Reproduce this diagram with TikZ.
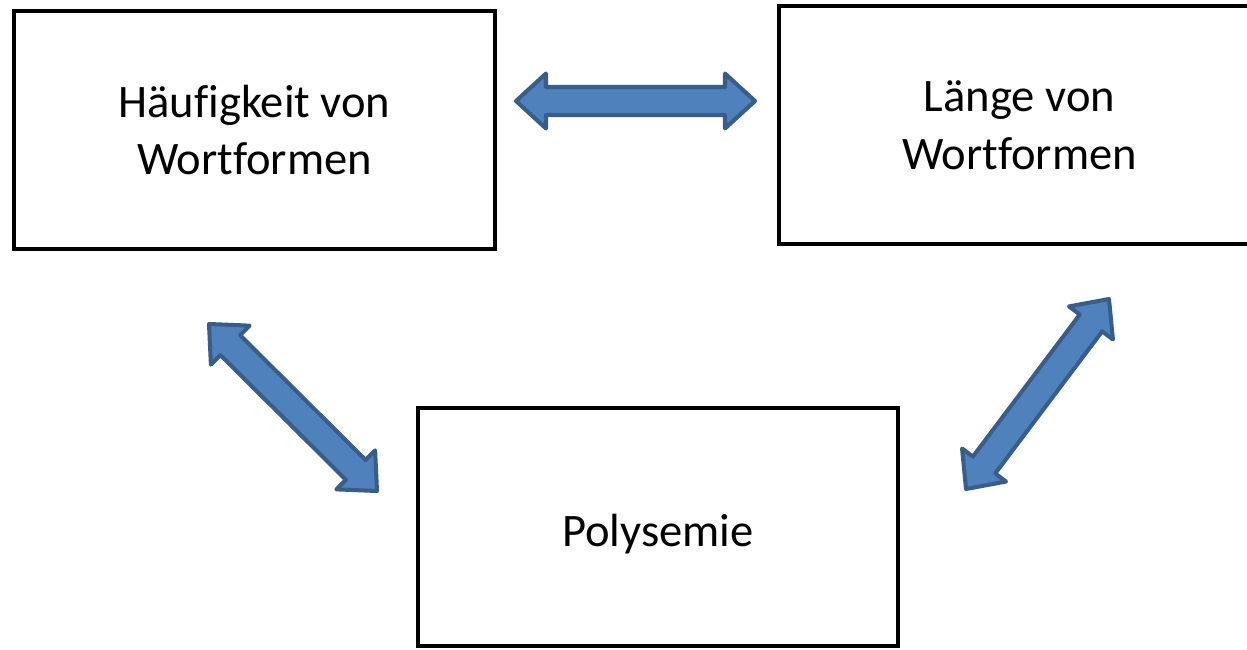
\documentclass[tikz,border=0pt]{standalone}
\usepackage{fontspec}
\setmainfont[Ligatures=NoCommon]{Carlito}
\usetikzlibrary{calc}

\definecolor{pfeilblau}{HTML}{4F81BD}
\definecolor{pfeilrand}{HTML}{385D8A}

% dicker Doppelpfeil zwischen zwei Koordinaten
\newcommand{\doppelpfeil}[2]{%
  \draw[pfeil] (#1)
    -- ($(#1)!0.6cm!(#2)!0.55cm!90:(#2)$)
    -- ($(#1)!0.6cm!(#2)!0.28cm!90:(#2)$)
    -- ($(#2)!0.6cm!(#1)!0.28cm!-90:(#1)$)
    -- ($(#2)!0.6cm!(#1)!0.55cm!-90:(#1)$)
    -- (#2)
    -- ($(#2)!0.6cm!(#1)!0.55cm!90:(#1)$)
    -- ($(#2)!0.6cm!(#1)!0.28cm!90:(#1)$)
    -- ($(#1)!0.6cm!(#2)!0.28cm!-90:(#2)$)
    -- ($(#1)!0.6cm!(#2)!0.55cm!-90:(#2)$)
    -- cycle;}

\begin{document}
\begin{tikzpicture}[x=0.02cm, y=-0.02cm,
    kasten/.style={draw=black, line width=2.3pt, minimum width=9.62cm, minimum height=4.76cm,
      align=center, font=\fontsize{26.5}{33}\selectfont},
    pfeil/.style={fill=pfeilblau, draw=pfeilrand, line width=2.3pt, line join=round}]
    \useasboundingbox (0,0) rectangle (1247,649);

    % Kästen
    \node[kasten] (haeufigkeit) at (254.5,130) {Häufigkeit von\\Wortformen};
    \node[kasten] (laenge) at (1019.5,125) {Länge von\\Wortformen};
    \node[kasten] (polysemie) at (658,527) {\raisebox{-4pt}[\height][\depth]{Polysemie}};

    % Pfeilenden
    \coordinate (oben-l) at (516,101);
    \coordinate (oben-r) at (755,101);
    \coordinate (links-o) at (209,324);
    \coordinate (links-u) at (377,491);
    \coordinate (rechts-o) at (1109,299);
    \coordinate (rechts-u) at (966,489);

    % Pfeile
    \doppelpfeil{oben-l}{oben-r}
    \doppelpfeil{links-o}{links-u}
    \doppelpfeil{rechts-o}{rechts-u}
\end{tikzpicture}
\end{document}
